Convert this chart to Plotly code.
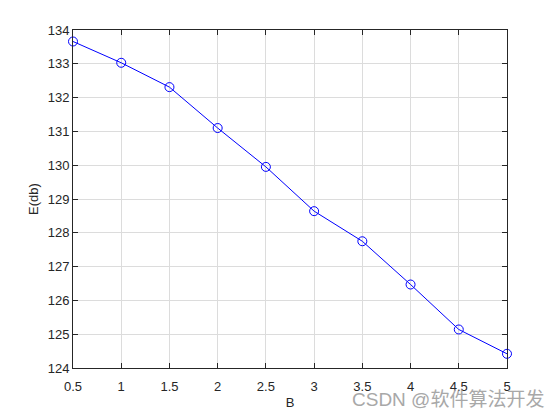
import plotly.graph_objects as go

b_values = [0.5, 1, 1.5, 2, 2.5, 3, 3.5, 4, 4.5, 5]
e_values = [133.66, 133.03, 132.31, 131.10, 129.95, 128.64, 127.75, 126.47, 125.14, 124.42]
x_ticks = [0.5, 1, 1.5, 2, 2.5, 3, 3.5, 4, 4.5, 5]
x_tick_labels = ["0.5", "1", "1.5", "2", "2.5", "3", "3.5", "4", "4.5", "5"]
y_ticks = list(range(124, 135))

FONT = "Liberation Sans, Arial"
TXT = "#262626"

fig = go.Figure()
fig.add_trace(go.Scatter(
    x=b_values, y=e_values, mode="lines+markers",
    line=dict(color="#0000ff", width=1),
    marker=dict(symbol="circle-open", size=9, color="#0000ff", line=dict(width=1)),
    cliponaxis=False, showlegend=False,
))

axis_common = dict(
    showline=True, linecolor=TXT, linewidth=1, mirror="ticks",
    ticks="inside", ticklen=5, tickcolor=TXT,
    showgrid=True, gridcolor="#dcdcdc", gridwidth=1,
    zeroline=False,
    tickfont=dict(family=FONT, size=13, color=TXT),
)

fig.update_xaxes(range=[0.5, 5], tickvals=x_ticks, ticktext=x_tick_labels,
                 ticklabelstandoff=6,
                 title=dict(text="B", font=dict(family=FONT, size=13, color=TXT), standoff=5),
                 **axis_common)
fig.update_yaxes(range=[124, 134], tickvals=y_ticks,
                 title=dict(text="E(db)", font=dict(family=FONT, size=13, color=TXT), standoff=6),
                 **axis_common)

fig.add_annotation(text="CSDN @软件算法开发", xref="paper", yref="paper",
                   x=1.09, y=-0.092, xanchor="right", yanchor="middle", showarrow=False,
                   font=dict(family="Liberation Sans, Noto Sans CJK SC", size=19, color="#a8a8a8"))

fig.update_layout(
    width=552, height=412,
    margin=dict(l=65, r=53, t=22, b=47),
    paper_bgcolor="white", plot_bgcolor="white",
)

fig.write_html("out.html")
